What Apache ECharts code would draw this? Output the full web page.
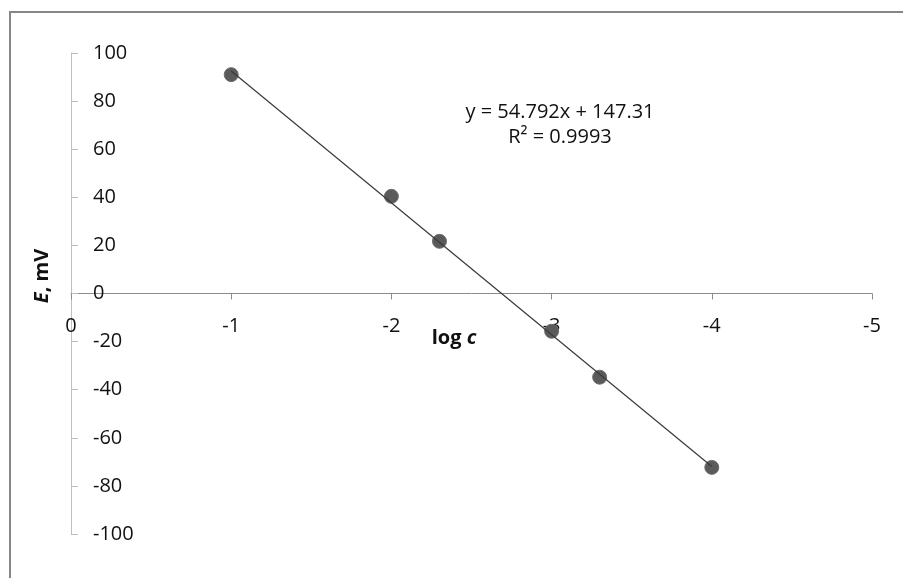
<!DOCTYPE html>
<html>
<head>
<meta charset="utf-8">
<script src="https://cdn.jsdelivr.net/npm/echarts@6/dist/echarts.min.js"></script>
<style>html,body{margin:0;padding:0;background:#fff}#c{width:903px;height:578px}</style>
</head>
<body>
<div id="c"></div>
<script>
// Data
var logC = [-1, -2, -2.3, -3, -3.3, -4];
var potential = [91, 40.4, 21.7, -15.7, -34.8, -72.3];
// Linear trendline (y = 54.792x + 147.31) endpoints
var trendX = [-1, -4];
var trendY = [92.5, -71.9];
var xTicks = [0, -1, -2, -3, -4, -5];
var yTicks = [-100, -80, -60, -40, -20, 0, 20, 40, 60, 80, 100];
var eqLine1 = 'y = 54.792x + 147.31';
var eqLine2 = 'R\u00B2 = 0.9993';

var FONT = '"Open Sans", sans-serif';
var gridTop = 53, gridBottom = 44, H = 578;
var plotH = H - gridTop - gridBottom;
var yMin = yTicks[0], yMax = yTicks[yTicks.length - 1];
// distance from grid bottom to the y=0 line, so the x axis sits on zero with its labels
var zeroOffset = plotH * (0 - yMin) / (yMax - yMin);

var chart = echarts.init(document.getElementById('c'), null, {renderer: 'canvas'});
chart.setOption({
  animation: false,
  backgroundColor: '#fff',
  grid: {left: 71, right: 31, top: gridTop, bottom: gridBottom, containLabel: false},
  xAxis: {
    type: 'value', inverse: true, position: 'bottom', offset: -zeroOffset,
    min: xTicks[xTicks.length - 1], max: xTicks[0], interval: 1,
    axisLine: {onZero: false, lineStyle: {color: '#8c8c8c', width: 1}},
    axisTick: {show: true, length: 6, lineStyle: {color: '#8c8c8c'}},
    axisLabel: {fontFamily: FONT, fontSize: 20, color: '#111', margin: 23,
      formatter: function (v) { return String(v); }},
    splitLine: {show: false}
  },
  yAxis: {
    type: 'value',
    min: yMin, max: yMax, interval: 20,
    axisLine: {show: true, onZero: false, lineStyle: {color: '#bfbfbf', width: 1}},
    axisTick: {show: true, inside: true, length: 7, lineStyle: {color: '#bfbfbf'}},
    axisLabel: {inside: true, margin: 22, fontFamily: FONT, fontSize: 20, color: '#111', align: 'left'},
    splitLine: {show: false}
  },
  series: [
    {
      type: 'line',
      data: trendX.map(function (x, i) { return [x, trendY[i]]; }),
      symbol: 'none',
      lineStyle: {color: '#3a3a3a', width: 1.2},
      z: 3
    },
    {
      type: 'scatter',
      data: logC.map(function (x, i) { return [x, potential[i]]; }),
      symbol: 'circle', symbolSize: 14,
      itemStyle: {color: '#5a5a5a', borderColor: '#6e6e6e', borderWidth: 1, opacity: 1},
      z: 2
    }
  ],
  graphic: [
    {type: 'rect', shape: {x: 10, y: 12, width: 1200, height: 1200},
      style: {fill: 'none', stroke: '#868686', lineWidth: 2}, silent: true, z: -1},
    {type: 'text', x: 560, y: 112,
      style: {text: eqLine1, font: '20px ' + FONT, fill: '#111', align: 'center', verticalAlign: 'middle'}},
    {type: 'text', x: 560, y: 137,
      style: {text: eqLine2, font: '20px ' + FONT, fill: '#111', align: 'center', verticalAlign: 'middle'}},
    {type: 'text', x: 454, y: 338,
      style: {text: '{a|log }{b|c}', align: 'center', verticalAlign: 'middle',
        rich: {a: {font: 'bold 20px ' + FONT, fill: '#111'}, b: {font: 'italic bold 20px ' + FONT, fill: '#111'}}}},
    {type: 'text', x: 42, y: 276, rotation: Math.PI / 2,
      style: {text: '{b|E}{a|, mV}', align: 'center', verticalAlign: 'middle',
        rich: {a: {font: 'bold 20px ' + FONT, fill: '#111'}, b: {font: 'italic bold 20px ' + FONT, fill: '#111'}}}}
  ]
});
</script>
</body>
</html>
